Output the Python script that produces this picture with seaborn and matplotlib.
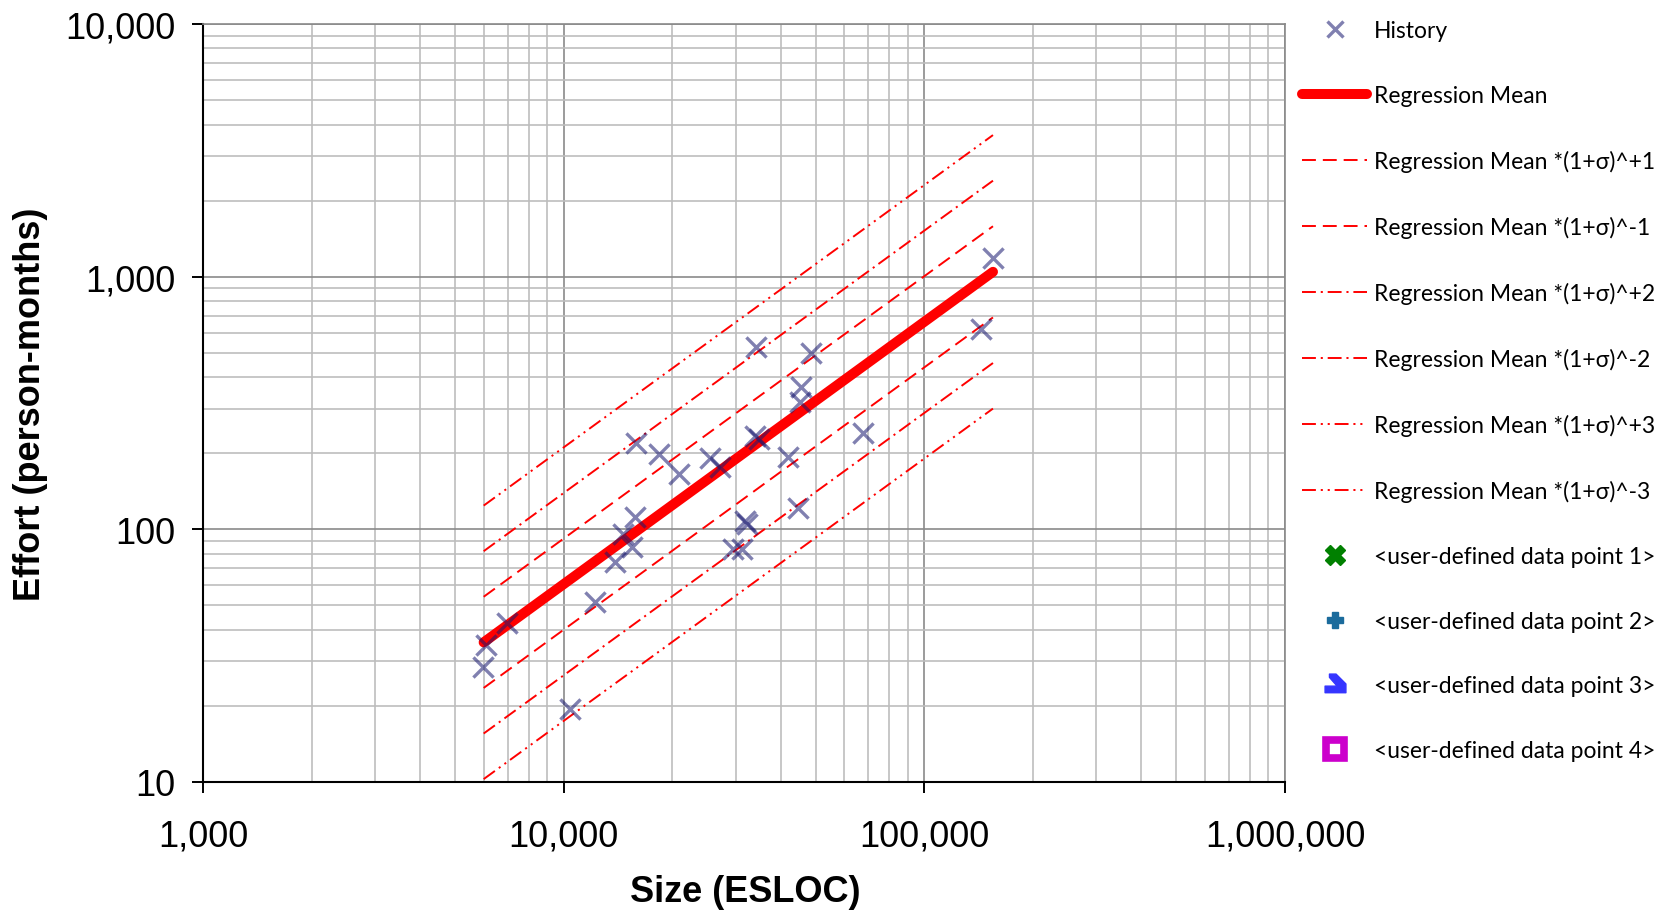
import numpy as np
import pandas as pd
import matplotlib
matplotlib.use("Agg")
import matplotlib.pyplot as plt
import seaborn as sns
from matplotlib.ticker import LogLocator, FuncFormatter, NullFormatter
from matplotlib.lines import Line2D
from matplotlib.path import Path

sns.set_theme(style="white")
plt.rcParams["font.family"] = ["Liberation Sans", "DejaVu Sans"]
plt.rcParams["lines.scale_dashes"] = False

# Historical projects: size (ESLOC) and effort (person-months)
history_size = [5990, 6080, 6980, 10400, 12200, 13850, 14600, 15500, 15740, 15910,
                18390, 20890, 25410, 27100, 29510, 31140, 31770, 32150, 33900, 34700,
                34100, 42000, 44500, 45150, 45600, 48640, 67600, 143300, 155300]
history_effort = [28.5, 35.0, 42.4, 19.4, 51.4, 74.0, 95.8, 84.9, 111.6, 219.0,
                  198.6, 165.5, 191.0, 175.8, 83.6, 83.6, 108.0, 105.0, 234.0, 227.0,
                  528.0, 193.0, 121.0, 318.0, 365.0, 497.0, 240.0, 621.0, 1182.0]

# Regression mean line end points
regression_size = [6000, 155000]
regression_effort = [35.7, 1045.0]

# Spread of the bands: Regression Mean * (1+sigma)^k
sigma = 0.515
band_powers = ["+1", "-1", "+2", "-2", "+3", "-3"]
band_dashes = {
    "+1": (10, 5), "-1": (10, 5),
    "+2": (10, 3.5, 1.5, 3.5), "-2": (10, 3.5, 1.5, 3.5),
    "+3": (10, 3.5, 1.5, 3.5, 1.5, 3.5), "-3": (10, 3.5, 1.5, 3.5, 1.5, 3.5),
}

user_labels = ["<user-defined data point 1>", "<user-defined data point 2>",
               "<user-defined data point 3>", "<user-defined data point 4>"]

W, H = 1661, 912
fig = plt.figure(figsize=(W / 100, H / 100), dpi=100)
L, R, T, B = 203, 1285, 25, 783
ax = fig.add_axes([L / W, 1 - B / H, (R - L) / W, (B - T) / H])
ax.set_xscale("log")
ax.set_yscale("log")

red = "#ff0000"
hist_color = "#181870"

# band lines
for p in band_powers:
    k = int(p)
    sns.lineplot(x=regression_size,
                 y=[e * (1 + sigma) ** k for e in regression_effort],
                 ax=ax, color=red, linewidth=1.4,
                 linestyle=(0, band_dashes[p]), errorbar=None, zorder=2)

# regression mean
sns.lineplot(x=regression_size, y=regression_effort, ax=ax, color=red,
             linewidth=7.2, solid_capstyle="round", errorbar=None, zorder=3)

# history points
sns.scatterplot(x=history_size, y=history_effort, ax=ax, marker="x", s=210,
                color=hist_color, alpha=0.55, linewidth=2.4, zorder=4)

ax.set_xlim(1000, 1_000_000)
ax.set_ylim(10, 10_000)

comma = FuncFormatter(lambda v, _: f"{int(round(v)):,}")
for axis in (ax.xaxis, ax.yaxis):
    axis.set_major_locator(LogLocator(base=10))
    axis.set_minor_locator(LogLocator(base=10, subs=np.arange(2, 10)))
    axis.set_major_formatter(comma)
    axis.set_minor_formatter(NullFormatter())

ax.grid(which="major", color="#8a8a8a", linewidth=1.2, zorder=0)
ax.grid(which="minor", color="#bdbdbd", linewidth=1.2, zorder=0)
ax.set_axisbelow(True)

ax.tick_params(which="major", direction="out", length=8, width=1.4,
               color="black", labelsize=26, labelcolor="black",
               bottom=True, left=True)
ax.tick_params(axis="x", which="major", pad=18)
ax.tick_params(axis="y", which="major", pad=12)
ax.tick_params(which="minor", length=0)

for side in ("left", "bottom"):
    ax.spines[side].set_color("black")
    ax.spines[side].set_linewidth(1.5)
for side in ("top", "right"):
    ax.spines[side].set_color("#8a8a8a")
    ax.spines[side].set_linewidth(1.2)

ax.set_xlabel("Size (ESLOC)", fontsize=26, fontweight="bold", color="black")
ax.set_ylabel("Effort (person-months)", fontsize=26, fontweight="bold", color="black")
ax.xaxis.set_label_coords((745 - L) / (R - L), (B - 893) / (B - T))
ax.xaxis.label.set_verticalalignment("center")
ax.yaxis.set_label_coords((30 - L) / (R - L), 0.5)
ax.yaxis.label.set_verticalalignment("center")

# legend handles
arrow_path = Path([(-0.55, 0.95), (0.05, 0.95), (0.95, 0.05), (0.95, -0.75),
                   (-0.95, -0.75), (-0.95, -0.15), (0.15, -0.15), (-0.55, 0.65),
                   (-0.55, 0.95)], closed=True)
handles = [
    Line2D([], [], ls="none", marker="x", color=hist_color, alpha=0.55,
           markersize=12, markeredgewidth=2.4),
    Line2D([], [], color=red, linewidth=7.2, solid_capstyle="round"),
]
labels = ["History", "Regression Mean"]
for p in band_powers:
    handles.append(Line2D([], [], color=red, linewidth=1.4,
                          linestyle=(0, band_dashes[p])))
    labels.append(f"Regression Mean *(1+σ)^{p}")
handles += [
    Line2D([], [], ls="none", marker="X", color="#008000", markersize=15,
           markeredgecolor="#008000"),
    Line2D([], [], ls="none", marker="P", color="#1b6b9c", markersize=12,
           markeredgecolor="#1b6b9c"),
    Line2D([], [], ls="none", marker=arrow_path, color="#3535ff", markersize=15,
           markeredgecolor="#3535ff"),
    Line2D([], [], ls="none", marker="s", markerfacecolor="white",
           markeredgecolor="#cc00cc", markeredgewidth=5.5, markersize=13),
]
labels += user_labels

leg_font = 16.5
ax.legend(handles, labels, loc="upper left",
          bbox_to_anchor=(1302 / W, 1 - 21 / H), bbox_transform=fig.transFigure,
          frameon=False, borderpad=0, borderaxespad=0,
          prop={"family": ["Lato", "DejaVu Sans"], "size": leg_font},
          handlelength=46.8 / leg_font, handletextpad=0.3,
          labelspacing=1.915, labelcolor="black")

fig.savefig("out.png", dpi=100, facecolor="white")
